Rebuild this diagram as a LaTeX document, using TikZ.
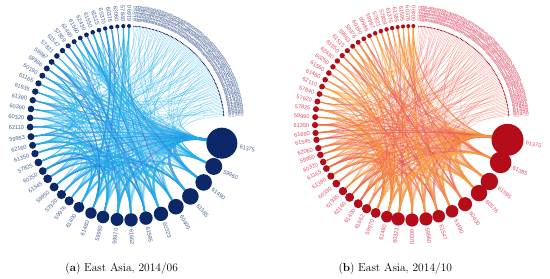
\documentclass[tikz,border=0pt]{standalone}
\usepackage{fontspec}
\setsansfont{Liberation Sans}
\usepackage{tikz}
\usetikzlibrary{calc,backgrounds}
\definecolor{navy}{RGB}{12,40,105}
\definecolor{slate}{RGB}{72,98,150}
\definecolor{skyblue}{RGB}{35,175,235}
\definecolor{royal}{RGB}{30,85,205}
\definecolor{crimson}{RGB}{180,12,25}
\definecolor{rosy}{RGB}{222,78,100}
\definecolor{tangerine}{RGB}{250,160,60}
\definecolor{salmon}{RGB}{242,100,80}
\tikzset{
  bluenode/.style={circle,fill=navy,inner sep=0pt},
  rednode/.style={circle,fill=crimson,inner sep=0pt},
  code/.style={font=\sffamily\fontsize{5.6}{6}\selectfont,inner sep=0pt},
  faintcode/.style={code,text opacity=0.6},
  link/.style={line width=#1,opacity=0.55,line cap=round},
  link/.default=0.6,
}
% radial label: angle, distance, text, style, name
\newcommand{\radlabel}[5]{%
  \pgfmathtruncatemacro\lefthalf{(#1>90)&&(#1<270)}%
  \ifnum\lefthalf=1
    \node[#4,anchor=east,rotate=180-#1] (#5) at (#1:{#2}) {#3};%
  \else
    \node[#4,anchor=west,rotate=-#1] (#5) at (#1:{#2}) {#3};%
  \fi}
% curved link bent towards the centre
\newcommand{\linkpair}[4]{%
  \draw[#4] (#1) .. controls ($(#3)!0.45!(#1)$) and ($(#3)!0.45!(#2)$) .. (#2);}

\begin{document}
\begin{tikzpicture}[x=1pt,y=-1pt]
\useasboundingbox (0,0) rectangle (550,279);

%% (a) 2014/06
\begin{scope}[shift={(127,123)}]
  \coordinate (ac) at (0,0);
  \foreach \a/\rad/\lbl [count=\i] in {12/15.5/61375, 26.6/8.5/59960, 37.8/8.3/61490,
      49.2/8.3/61385, 59.7/7.8/60400, 69.5/7.2/60323, 78.7/6.7/61595, 87.6/6.7/61662,
      95.9/6.5/59970, 104.3/6.3/59990, 111.8/5.7/61480, 119.7/5.5/61400, 126.6/4.6/59976,
      132.5/4.6/57920, 138.7/4.5/59950, 144.9/4.4/61545, 150.3/3.9/60250, 156/3.9/57825,
      161.6/3.7/61350, 166.7/3.5/62160, 171.9/3.5/59963, 177.6/3.4/62110, 183/3.3/60320,
      188.3/3.3/60390, 193.6/3.2/61390, 198.9/3.2/61935, 204.1/3.1/61165, 209.2/3/60190,
      214.2/3/59986, 219/2.9/59987, 223.7/2.8/57821, 228.3/2.7/61547, 232.7/2.6/57859,
      237/2.5/61460, 241.2/2.4/61560, 245.3/2.4/62430, 249.3/2.3/61550, 253.2/2.3/61515,
      257/2.2/60370, 260.7/2.2/60376, 264.3/2.1/62060, 267.8/2.1/57840, 271.2/2/61690} {
    \node[bluenode,minimum size=2*\rad] (a\i) at (\a:97) {};
    \radlabel{\a}{97+\rad+2.5}{\lbl}{code,slate}{al\i}
  }
  \foreach \g in {0,...,7} {
    \foreach \lbl [count=\j] in {61550,61515,62430,61560,61460,57840,62060,60370,60376,61690,59960,61385} {
      \pgfmathtruncatemacro\k{12*\g+\j}
      \pgfmathsetmacro\a{274+0.86*(\k-1)}
      \node[bluenode,minimum size=1.3] (at\k) at (\a:97) {};
      \radlabel{\a}{101.5}{\lbl}{faintcode,slate}{atl\k}
    }
  }
  \begin{pgfonlayer}{background}
    \pgfmathsetseed{5}
    \foreach \i in {2,...,30} {
      \pgfmathsetmacro\w{2.8-0.06*\i}
      \pgfmathrandominteger{\c}{0}{3}
      \ifnum\c=0 \def\lc{royal}\else\def\lc{skyblue}\fi
      \linkpair{a1}{a\i}{ac}{link=\w,draw=\lc}
    }
    \foreach \i in {2,...,12} {
      \foreach \n in {1,...,4} {
        \pgfmathrandominteger{\j}{13}{43}
        \pgfmathrandominteger{\c}{0}{3}
        \ifnum\c=0 \def\lc{royal}\else\def\lc{skyblue}\fi
        \linkpair{a\i}{a\j}{ac}{link=1.3,draw=\lc}
      }
    }
    \foreach \i in {13,...,43} {
      \foreach \n in {1,2} {
        \pgfmathrandominteger{\j}{1}{12}
        \pgfmathrandominteger{\c}{0}{3}
        \ifnum\c=0 \def\lc{royal}\else\def\lc{skyblue}\fi
        \linkpair{a\i}{a\j}{ac}{link=0.8,draw=\lc}
      }
    }
    \foreach \n in {1,...,70} {
      \pgfmathrandominteger{\i}{1}{43}
      \pgfmathrandominteger{\j}{1}{43}
      \ifnum\i=\j\else\linkpair{a\i}{a\j}{ac}{link=0.6,draw=skyblue}\fi
    }
    \foreach \k in {1,...,96} {
      \pgfmathrandominteger{\j}{1}{28}
      \linkpair{at\k}{a\j}{ac}{link=0.3,draw=skyblue}
    }
    \foreach \i in {1,...,12} {
      \pgfmathrandominteger{\j}{1}{12}
      \ifnum\i=\j\else\linkpair{a\i}{a\j}{ac}{link=1.6,draw=skyblue}\fi
    }
  \end{pgfonlayer}
\end{scope}

%% (b) 2014/10
\begin{scope}[shift={(412,123)}]
  \coordinate (bc) at (0,0);
  \foreach \a/\rad/\lbl [count=\i] in {10/16/61375, 24/10.8/61385, 37.1/8.7/61595,
      46.3/8.2/60376, 56.8/7/60400, 65.6/6.3/61490, 74/6.3/61547, 81.7/6.6/59960,
      90/6.6/60370, 98.2/6.6/60323, 105/5.8/61480, 112/5/59970, 117.9/4.7/61662,
      123.7/4.5/61400, 130/4.5/62160, 135.4/4.2/61935, 141.3/3.9/60390, 146.8/3.6/61390,
      152/3.4/61165, 156.3/3.3/60320, 160.8/3.3/59950, 165/3.2/62060, 170/3.2/61545,
      174.1/3.1/61690, 178.8/3.1/61350, 183.5/3/59990, 188.2/3/57825, 192.8/3/57920,
      197.4/2.9/57840, 202/2.9/62110, 206.5/2.8/61460, 211/2.8/61560, 215.4/2.7/60250,
      219.7/2.7/62430, 224/2.6/61550, 228.2/2.6/61515, 232.3/2.5/59963, 236.3/2.5/59976,
      240.2/2.4/60190, 244/2.4/59986, 247.7/2.3/59987, 251.3/2.3/57821, 254.8/2.2/57859,
      258.2/2.2/61375, 261.5/2.1/61385, 264.7/2.1/61595, 267.8/2/60376, 270.8/2/60400} {
    \node[rednode,minimum size=2*\rad] (b\i) at (\a:97) {};
    \radlabel{\a}{97+\rad+2.5}{\lbl}{code,rosy}{bl\i}
  }
  \foreach \g in {0,...,7} {
    \foreach \lbl [count=\j] in {59963,59976,60190,59986,59987,57821,57859,61375,61385,61595,60376,60400} {
      \pgfmathtruncatemacro\k{12*\g+\j}
      \pgfmathsetmacro\a{274+0.86*(\k-1)}
      \node[rednode,minimum size=1.3] (bt\k) at (\a:97) {};
      \radlabel{\a}{101.5}{\lbl}{faintcode,rosy}{btl\k}
    }
  }
  \begin{pgfonlayer}{background}
    \pgfmathsetseed{9}
    \foreach \i in {2,...,30} {
      \pgfmathsetmacro\w{2.8-0.06*\i}
      \pgfmathrandominteger{\c}{0}{3}
      \ifnum\c=0 \def\lc{rosy}\else\ifnum\c=1 \def\lc{salmon}\else\def\lc{tangerine}\fi\fi
      \linkpair{b1}{b\i}{bc}{link=\w,draw=\lc}
    }
    \foreach \i in {2,...,12} {
      \foreach \n in {1,...,4} {
        \pgfmathrandominteger{\j}{13}{48}
        \pgfmathrandominteger{\c}{0}{3}
        \ifnum\c=0 \def\lc{rosy}\else\ifnum\c=1 \def\lc{salmon}\else\def\lc{tangerine}\fi\fi
        \linkpair{b\i}{b\j}{bc}{link=1.3,draw=\lc}
      }
    }
    \foreach \i in {13,...,48} {
      \foreach \n in {1,2} {
        \pgfmathrandominteger{\j}{1}{12}
        \pgfmathrandominteger{\c}{0}{3}
        \ifnum\c=0 \def\lc{rosy}\else\ifnum\c=1 \def\lc{salmon}\else\def\lc{tangerine}\fi\fi
        \linkpair{b\i}{b\j}{bc}{link=0.8,draw=\lc}
      }
    }
    \foreach \n in {1,...,70} {
      \pgfmathrandominteger{\i}{1}{48}
      \pgfmathrandominteger{\j}{1}{48}
      \ifnum\i=\j\else\linkpair{b\i}{b\j}{bc}{link=0.6,draw=tangerine}\fi
    }
    \foreach \k in {1,...,96} {
      \pgfmathrandominteger{\j}{1}{28}
      \linkpair{bt\k}{b\j}{bc}{link=0.3,draw=salmon}
    }
    \foreach \i in {1,...,12} {
      \pgfmathrandominteger{\j}{1}{12}
      \ifnum\i=\j\else\linkpair{b\i}{b\j}{bc}{link=1.6,draw=tangerine}\fi
    }
  \end{pgfonlayer}
\end{scope}

\node[anchor=base,font=\fontsize{11.5}{13}\selectfont] (capa) at (121.7,271.5) {(\textbf{a}) East Asia, 2014/06};
\node[anchor=base,font=\fontsize{11.5}{13}\selectfont] (capb) at (395.3,271.5) {(\textbf{b}) East Asia, 2014/10};
\end{tikzpicture}
\end{document}
